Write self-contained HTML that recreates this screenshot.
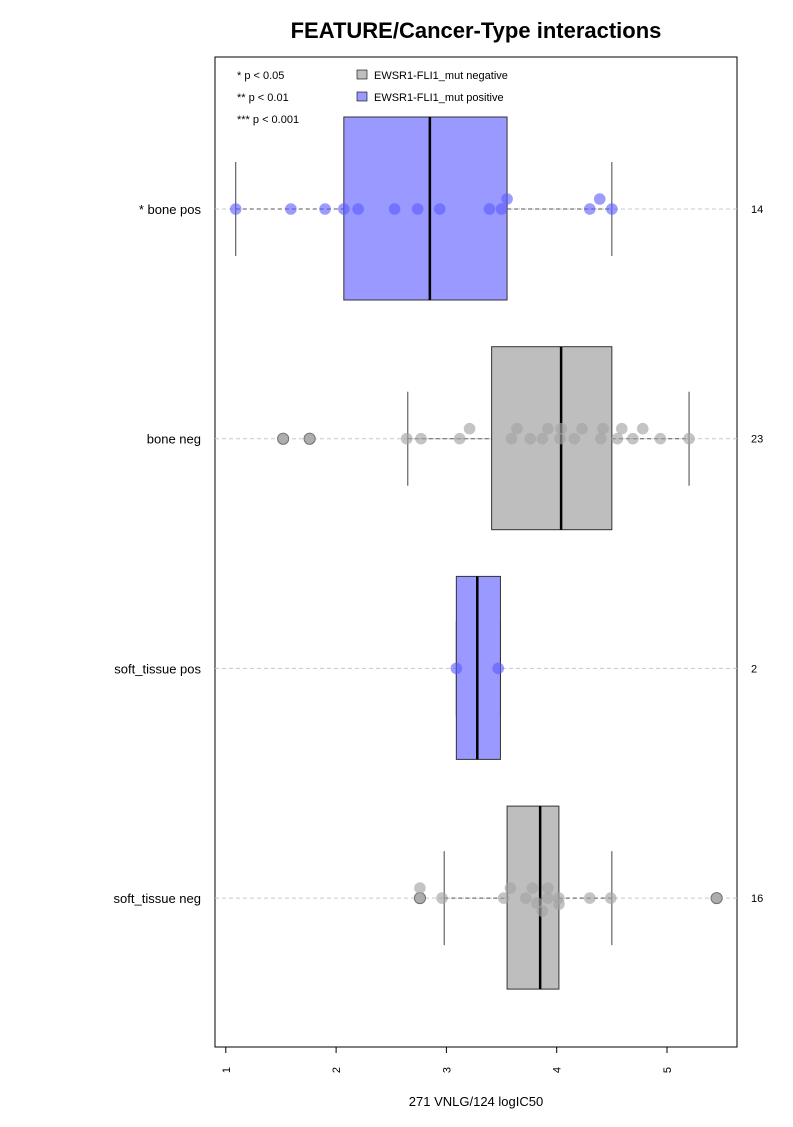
<!DOCTYPE html>
<html><head><meta charset="utf-8"><style>
body{margin:0;background:#fff;}
svg{font-family:"Liberation Sans",Arial,sans-serif;}
</style></head><body>
<svg id="chart" width="793" height="1122" viewBox="0 0 793 1122" xmlns="http://www.w3.org/2000/svg">
<rect width="793" height="1122" fill="#fff"/>
<text x="476" y="38" text-anchor="middle" font-size="22" font-weight="bold">FEATURE/Cancer-Type interactions</text>
<rect x="215" y="57" width="522" height="990" fill="none" stroke="#000" stroke-width="1"/>
<g id="marks"></g>
<g font-size="11">
<text x="237" y="79">* p &lt; 0.05</text>
<text x="237" y="101">** p &lt; 0.01</text>
<text x="237" y="123">*** p &lt; 0.001</text>
<rect x="357" y="70" width="10" height="9" fill="#bebebe" stroke="#000" stroke-width="0.6"/>
<text x="374" y="79">EWSR1-FLI1_mut negative</text>
<rect x="357" y="92" width="10" height="9" fill="#9999ff" stroke="#000" stroke-width="0.6"/>
<text x="374" y="101">EWSR1-FLI1_mut positive</text>
</g>
<text x="476" y="1106" text-anchor="middle" font-size="13">271 VNLG/124 logIC50</text>
</svg>
<script>
const categories=["* bone pos","bone neg","soft_tissue pos","soft_tissue neg"];
const counts=[14,23,2,16];
const positive=[true,false,true,false];
const q1s=[2.07,3.41,3.09,3.55];
const medians=[2.85,4.04,3.28,3.85];
const q3s=[3.55,4.50,3.49,4.02];
const whiskLo=[1.09,2.65,3.09,2.98];
const whiskHi=[4.50,5.20,3.49,4.50];
const pointsBonePos=[1.09,1.59,1.90,2.07,2.20,2.53,2.74,2.94,3.39,3.50,3.55,4.30,4.39,4.50];
const levelsBonePos=[0,0,0,0,0,0,0,0,0,0,1,0,1,0];
const pointsBoneNeg=[1.52,1.76,2.64,2.77,3.12,3.21,3.59,3.64,3.76,3.87,3.92,4.03,4.04,4.16,4.23,4.40,4.42,4.55,4.59,4.69,4.78,4.94,5.20];
const levelsBoneNeg=[0,0,0,0,0,1,0,1,0,0,1,0,1,0,1,0,1,0,1,0,1,0,0];
const pointsSoftPos=[3.09,3.47];
const levelsSoftPos=[0,0];
const pointsSoftNeg=[2.76,2.76,2.96,3.52,3.58,3.72,3.78,3.82,3.87,3.92,3.92,4.02,4.02,4.30,4.49,5.45];
const levelsSoftNeg=[0,1,0,0,1,0,1,-0.5,-1.3,1,0,0,-0.6,0,0,0];
const outliersBoneNeg=[1.52,1.76];
const outliersSoftNeg=[2.76,5.45];
const xTicks=[1,2,3,4,5];
const groupPoints=[pointsBonePos,pointsBoneNeg,pointsSoftPos,pointsSoftNeg];
const groupLevels=[levelsBonePos,levelsBoneNeg,levelsSoftPos,levelsSoftNeg];
const groupOutliers=[[],outliersBoneNeg,[],outliersSoftNeg];

const NS="http://www.w3.org/2000/svg";
function xs(v){return 225.8+(v-1)*110.3;}
function ys(i){return 209+i*229.7;}
const g=document.getElementById('marks');
const svg=document.getElementById('chart');
function mk(tag,attrs,parent){const e=document.createElementNS(NS,tag);for(const k in attrs)e.setAttribute(k,attrs[k]);(parent||g).appendChild(e);return e;}

categories.forEach((c,i)=>{
  const y=ys(i);
  const grid=mk('line',{x1:215,x2:737,y1:y,y2:y,stroke:'#c8c8c8','stroke-dasharray':'4,3','stroke-width':1});
  
  
  const wl=mk('line',{x1:xs(whiskLo[i]),x2:xs(q1s[i]),y1:y,y2:y,stroke:'#555','stroke-dasharray':'4,3'});
  
  
  const wh=mk('line',{x1:xs(q3s[i]),x2:xs(whiskHi[i]),y1:y,y2:y,stroke:'#555','stroke-dasharray':'4,3'});
  
  
  [whiskLo[i],whiskHi[i]].forEach(v=>{
    const cap=mk('line',{x1:xs(v),x2:xs(v),y1:y-47,y2:y+47,stroke:'#444','stroke-width':1});
    
    
  });
  const box=mk('rect',{x:xs(q1s[i]),y:y-92,width:xs(q3s[i])-xs(q1s[i]),height:183,fill:positive[i]?'#9999ff':'#bebebe',stroke:'#333','stroke-width':1});
  
  
  const med=mk('line',{x1:xs(medians[i]),x2:xs(medians[i]),y1:y-92,y2:y+91,stroke:'#000','stroke-width':2.5});
  
  
  groupOutliers[i].forEach(v=>{
    const o=mk('circle',{cx:xs(v),cy:y,r:5.5,fill:'#bebebe',stroke:'#333','stroke-width':1});
    
    
  });
  groupPoints[i].forEach((v,j)=>{
    const p=mk('circle',{cx:xs(v),cy:y-groupLevels[i][j]*10,r:5.8,fill:positive[i]?'rgba(90,90,255,0.6)':'rgba(165,165,165,0.65)'});
    
    
  });
  const lab=mk('text',{x:201,y:y+5,'text-anchor':'end','font-size':13},svg);
  lab.textContent=c;
  
  
  const cnt=mk('text',{x:751,y:y+4,'font-size':11},svg);
  cnt.textContent=counts[i];
  
  
});
const ax=mk('line',{x1:xs(xTicks[0]),x2:xs(xTicks[xTicks.length-1]),y1:1047,y2:1047,stroke:'#000'},svg);


xTicks.forEach(t=>{
  const tk=mk('line',{x1:xs(t),x2:xs(t),y1:1047,y2:1053,stroke:'#000'},svg);
  
  
  const tl=mk('text',{x:0,y:0,'font-size':11,'text-anchor':'middle',transform:'translate('+(xs(t)+4)+',1070) rotate(-90)'},svg);
  tl.textContent=t;
  
  
});
</script>
</body></html>
